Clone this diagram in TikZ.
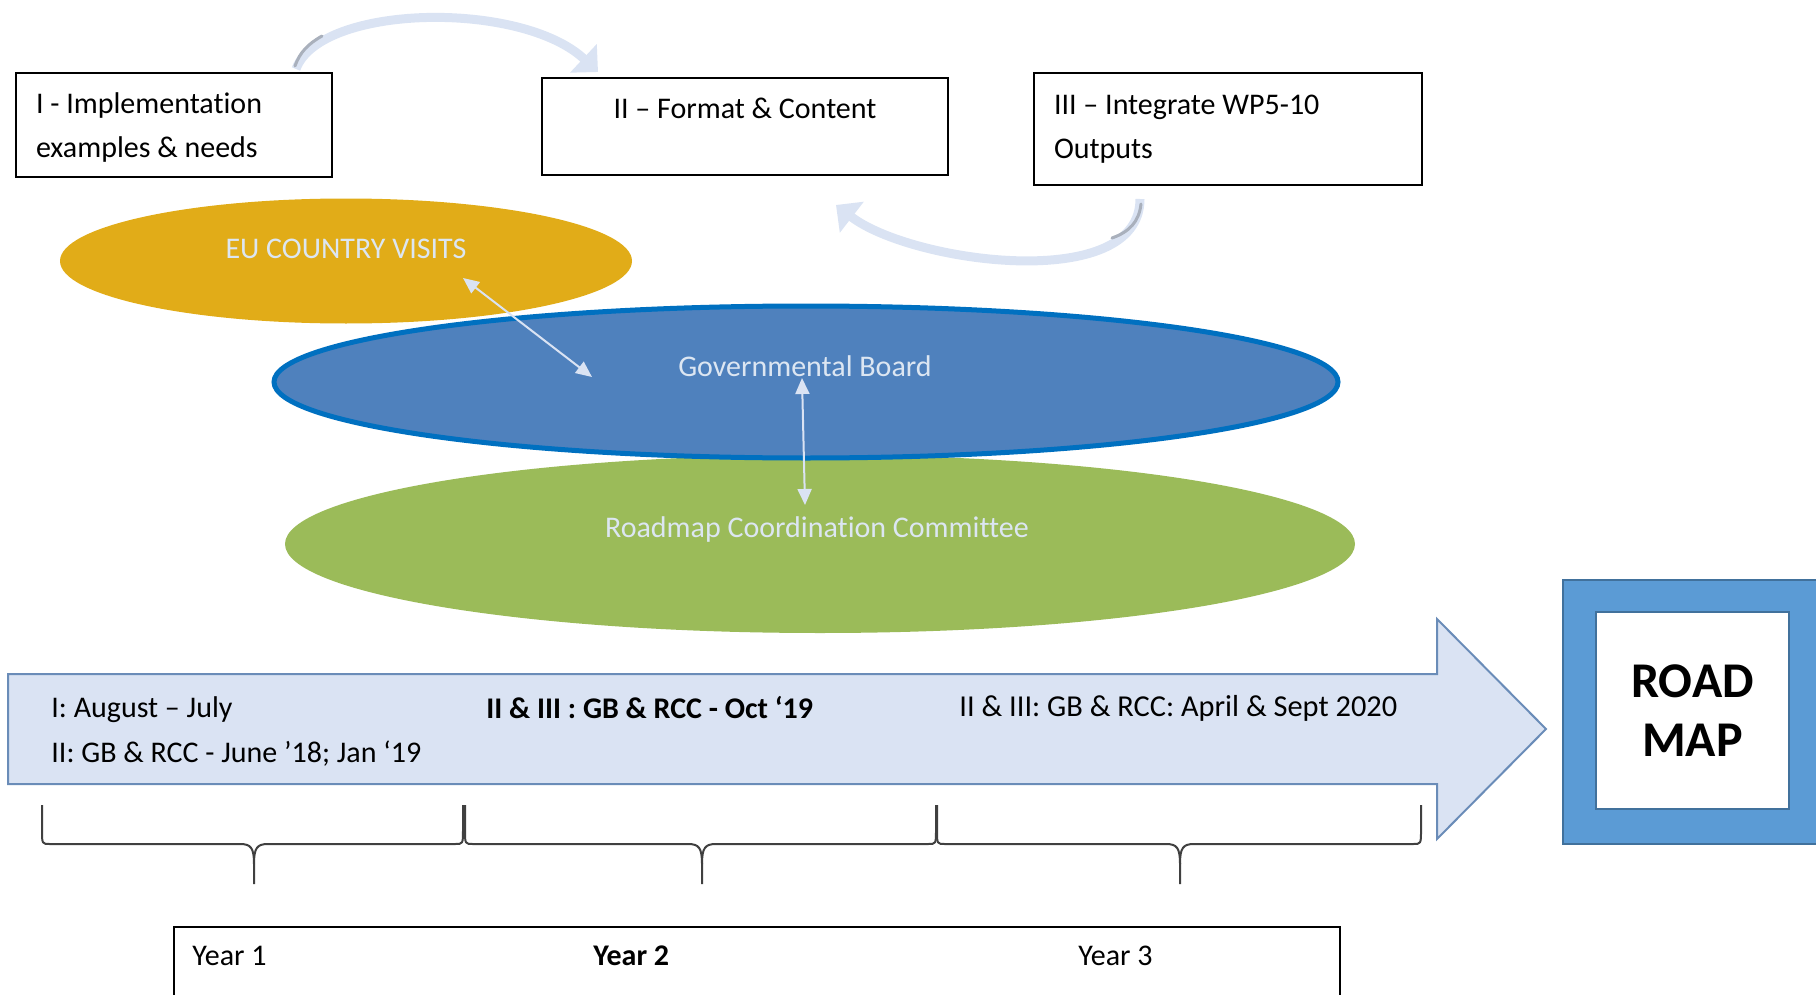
\documentclass[tikz,border=0pt]{standalone}
\usepackage{fontspec}
\setmainfont{Carlito}[Ligatures=NoCommon]
\usetikzlibrary{shapes.geometric,arrows.meta,calc}
\definecolor{eugold}{HTML}{E1AC18}
\definecolor{govblue}{HTML}{4F81BD}
\definecolor{govedge}{HTML}{0070C0}
\definecolor{rccgreen}{HTML}{9BBB59}
\definecolor{paleblue}{HTML}{DAE3F3}
\definecolor{elltxt}{HTML}{DCE6F2}
\definecolor{arrowedge}{HTML}{6A8CB8}
\definecolor{roadfill}{HTML}{5B9BD5}
\definecolor{roadedge}{HTML}{41719C}
\definecolor{bracegray}{HTML}{404040}
\definecolor{streak}{HTML}{A9B0BC}
\newcommand{\mybrace}[3]{%
  \draw[bracestyle] (#1,805) -- (#1,830) .. controls (#1,844) .. ({#1+8},844) -- ({#2-14},844) .. controls ({#2-3},844) and (#2,848) .. (#2,864) -- (#2,884);
  \draw[bracestyle] (#2,864) .. controls (#2,848) and ({#2+3},844) .. ({#2+14},844) -- ({#3-8},844) .. controls (#3,844) .. (#3,830) -- (#3,805);}
\begin{document}
\begin{tikzpicture}[x=0.5pt,y=-0.5pt,
  txt/.style={font=\fontsize{15}{22}\selectfont, text=black},
  boldtxt/.style={font=\fontsize{15}{22}\selectfont\bfseries, text=black},
  stagebox/.style={draw=black, line width=1pt, fill=white, inner xsep=10pt, inner ysep=0pt, align=flush left, txt},
  ell/.style={ellipse, inner sep=0pt},
  elltext/.style={font=\fontsize{15}{18}\selectfont, text=elltxt, inner sep=0pt},
  curvarrow/.style={draw=paleblue, line width=4.5pt, -{Triangle[width=19pt,length=10pt]}},
  dblarrow/.style={draw=paleblue, line width=1pt, {Triangle[width=7pt,length=8pt]}-{Triangle[width=7pt,length=8pt]}},
  bracestyle/.style={draw=bracegray, line width=1pt, line join=round},
  linetxt/.style={txt, anchor=west, inner sep=0pt},
]
\useasboundingbox (0,0) rectangle (1816,995);

% stage boxes
\node[stagebox, text width=138pt, minimum height=52pt] (b1) at (174,125) {\rule{0pt}{13pt}I - Implementation\\examples \& needs};
\node[stagebox, minimum width=203pt, minimum height=48.5pt, inner sep=0pt,
      label={[txt, anchor=center, yshift=-15.5pt]north:II – Format \& Content}] (b2) at (745,126.5) {};
\node[stagebox, text width=174pt, minimum height=56pt] (b3) at (1228,129) {III – Integrate WP5-10\\Outputs};

% curved arrows
\draw[curvarrow] ($(b1.north)+(122,-3)$) .. controls +(24,-65) and +(-77,-72) .. ($(b2.north west)+(57,-5)$);
\draw[streak, line width=1.5pt, line cap=round] (295,66) .. controls (300,52) and (308,44) .. (322,36);
\draw[curvarrow] ($(b3.south)+(-88,13)$) .. controls +(0,95) and +(75,58) .. ($(b2.south east)+(-113,29)$);
\draw[streak, line width=1.5pt, line cap=round] (1141,204) .. controls (1139,222) and (1129,232) .. (1112,238);

% ellipses
\node[ell, fill=rccgreen, minimum width=535pt, minimum height=89pt] (rcc) at (820,544) {};
\node[ell, fill=eugold, minimum width=286pt, minimum height=62.5pt] (eu) at (346,261) {};
\node[ell, fill=govblue, draw=govedge, line width=2.5pt, minimum width=532pt, minimum height=76pt] (gov) at (806,382) {};
\node[elltext] (eut) at (346,249) {EU COUNTRY VISITS};
\node[elltext] (govt) at (805,366) {Governmental Board};
\node[elltext] (rcct) at (817,529) {Roadmap Coordination Committee};
\draw[dblarrow] ($(eu.center)+(117,17)$) -- ($(gov.center)+(-214,-5)$);
\draw[dblarrow] ($(gov.center)+(-4,-4)$) -- ($(rcc.center)+(-15,-39)$);

% big timeline arrow
\draw[draw=arrowedge, line width=1pt, fill=paleblue] (8,674) -- (1437,674) -- (1437,619) -- (1546,729) -- (1437,839) -- (1437,784) -- (8,784) -- cycle;
\node[linetxt] (t1) at (51,710) {I: August – July};
\node[linetxt] (t2) at (51,754) {II: GB \& RCC - June ’18; Jan ‘19};
\node[linetxt, font=\fontsize{15}{22}\selectfont\bfseries] (t3) at (486,708) {II \& III : GB \& RCC - Oct ‘19};
\node[linetxt, font=\fontsize{15.2}{22}\selectfont] (t4) at (959,708) {II \& III: GB \& RCC: April \& Sept 2020};

% braces
\mybrace{42}{254}{463}
\mybrace{465}{702}{936}
\mybrace{937}{1180}{1421}

% road map
\node[draw=roadedge, line width=1pt, fill=roadfill, minimum width=130pt, minimum height=132pt, anchor=north west, inner sep=0pt] (rmouter) at (1562,579) {};
\node[draw=roadedge, line width=1pt, fill=white, minimum width=96.5pt, minimum height=98.5pt, inner sep=0pt, align=center, font=\fontsize{25}{29.5}\selectfont\bfseries] (rm) at (1692.5,710.5) {ROAD\\MAP};

% years
\node[draw=black, line width=1pt, minimum width=583pt, minimum height=60pt, anchor=north west, inner sep=0pt] (yb) at (173,926) {};
\node[linetxt] (y1) at (192,956) {Year 1};
\node[linetxt, font=\fontsize{15}{22}\selectfont\bfseries] (y2) at (593,956) {Year 2};
\node[linetxt] (y3) at (1078,956) {Year 3};
\end{tikzpicture}
\end{document}
